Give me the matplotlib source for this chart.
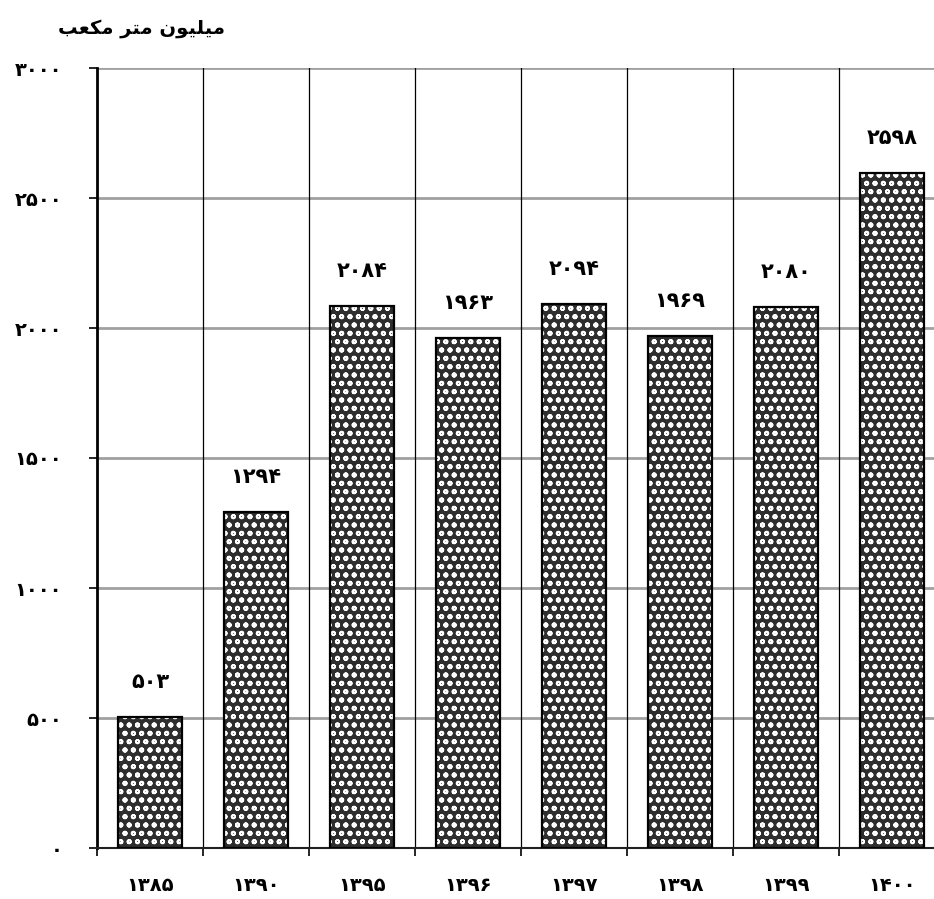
import matplotlib
matplotlib.use("Agg")
import matplotlib.pyplot as plt
import numpy as np

years = ["1385", "1390", "1395", "1396", "1397", "1398", "1399", "1400"]
values = [503, 1294, 2084, 1963, 2094, 1969, 2080, 2598]
yticks = [0, 500, 1000, 1500, 2000, 2500, 3000]
ylabel_text = "میلیون متر مکعب"

FA_DIGITS = str.maketrans("0123456789", "۰۱۲۳۴۵۶۷۸۹")

def fa(s):
    return str(s).translate(FA_DIGITS)

# minimal Arabic-script shaping (isolated, final, initial, medial)
FORMS = {
    'م': ('\uFEE1', '\uFEE2', '\uFEE3', '\uFEE4'),
    'ی': ('\uFBFC', '\uFBFD', '\uFBFE', '\uFBFF'),
    'ل': ('\uFEDD', '\uFEDE', '\uFEDF', '\uFEE0'),
    'و': ('\uFEED', '\uFEEE', None, None),
    'ن': ('\uFEE5', '\uFEE6', '\uFEE7', '\uFEE8'),
    'ت': ('\uFE95', '\uFE96', '\uFE97', '\uFE98'),
    'ر': ('\uFEAD', '\uFEAE', None, None),
    'ک': ('\uFB8E', '\uFB8F', '\uFB90', '\uFB91'),
    'ع': ('\uFEC9', '\uFECA', '\uFECB', '\uFECC'),
    'ب': ('\uFE8F', '\uFE90', '\uFE91', '\uFE92'),
}

def shape(text):
    out = []
    n = len(text)
    for i, c in enumerate(text):
        if c not in FORMS:
            out.append(c)
            continue
        prev = text[i - 1] if i > 0 else None
        nxt = text[i + 1] if i < n - 1 else None
        jp = prev in FORMS and FORMS[prev][2] is not None
        jn = FORMS[c][2] is not None and nxt in FORMS
        f = FORMS[c]
        if jp and jn:
            g = f[3]
        elif jp:
            g = f[1]
        elif jn:
            g = f[2]
        else:
            g = f[0]
        out.append(g)
    return "".join(out)[::-1]

plt.rcParams['font.family'] = ['DejaVu Sans']
plt.rcParams['hatch.color'] = 'white'
plt.rcParams['hatch.linewidth'] = 1.3

W, H = 934, 899
fig = plt.figure(figsize=(W / 100, H / 100), dpi=100)
left_px, right_px, top_px, bot_px = 97, 934, 68, 848
ax = fig.add_axes([left_px / W, 1 - bot_px / H, (right_px - left_px) / W, (bot_px - top_px) / H])

x = np.arange(len(years))
cell = 106.0

bw = 0.61
ax.bar(x, values, width=bw, color='#2e2e2e', hatch='oo', zorder=3, linewidth=0)
ax.bar(x, values, width=bw, fill=False, edgecolor='black', linewidth=1.6, zorder=4)

for xi, v in zip(x, values):
    ax.annotate(fa(v), (xi, v), xytext=(0, 35), textcoords='offset pixels',
                ha='center', va='center', fontsize=15, fontweight='bold', color='black')

# horizontal grid
for yv in yticks:
    if yv > 0:
        ax.axhline(yv, color='#a0a0a0', linewidth=2.0, zorder=1)

# category boundaries
bounds = np.arange(len(years) + 1) - 0.5
ax.set_xticks(bounds)
ax.set_xticklabels([])
ax.tick_params(axis='x', which='major', direction='out', length=6, width=1.2, color='black')
for b in bounds[1:]:
    ax.axvline(b, color='black', linewidth=0.9, zorder=2)

ax.set_xticks(x, minor=True)
ax.set_xticklabels([fa(y) for y in years], minor=True, fontsize=14, fontweight='bold')
ax.tick_params(axis='x', which='minor', length=0, pad=20)

ax.set_yticks(yticks)
ax.set_yticklabels([fa(v) for v in yticks], fontsize=14, fontweight='bold')
ax.tick_params(axis='y', direction='out', length=6, width=1.2, pad=19)

ax.set_xlim(-0.5, -0.5 + (right_px - left_px) / cell)
ax.set_ylim(0, 3000)

for s in ['top', 'right']:
    ax.spines[s].set_visible(False)
ax.spines['left'].set_linewidth(2.0)
ax.spines['bottom'].set_linewidth(1.5)
ax.spines['bottom'].set_color('#202020')

fig.text(225 / W, 1 - 28 / H, shape(ylabel_text), ha='right', va='center',
         fontsize=14, fontweight='bold')

fig.savefig("out.png", dpi=100)
